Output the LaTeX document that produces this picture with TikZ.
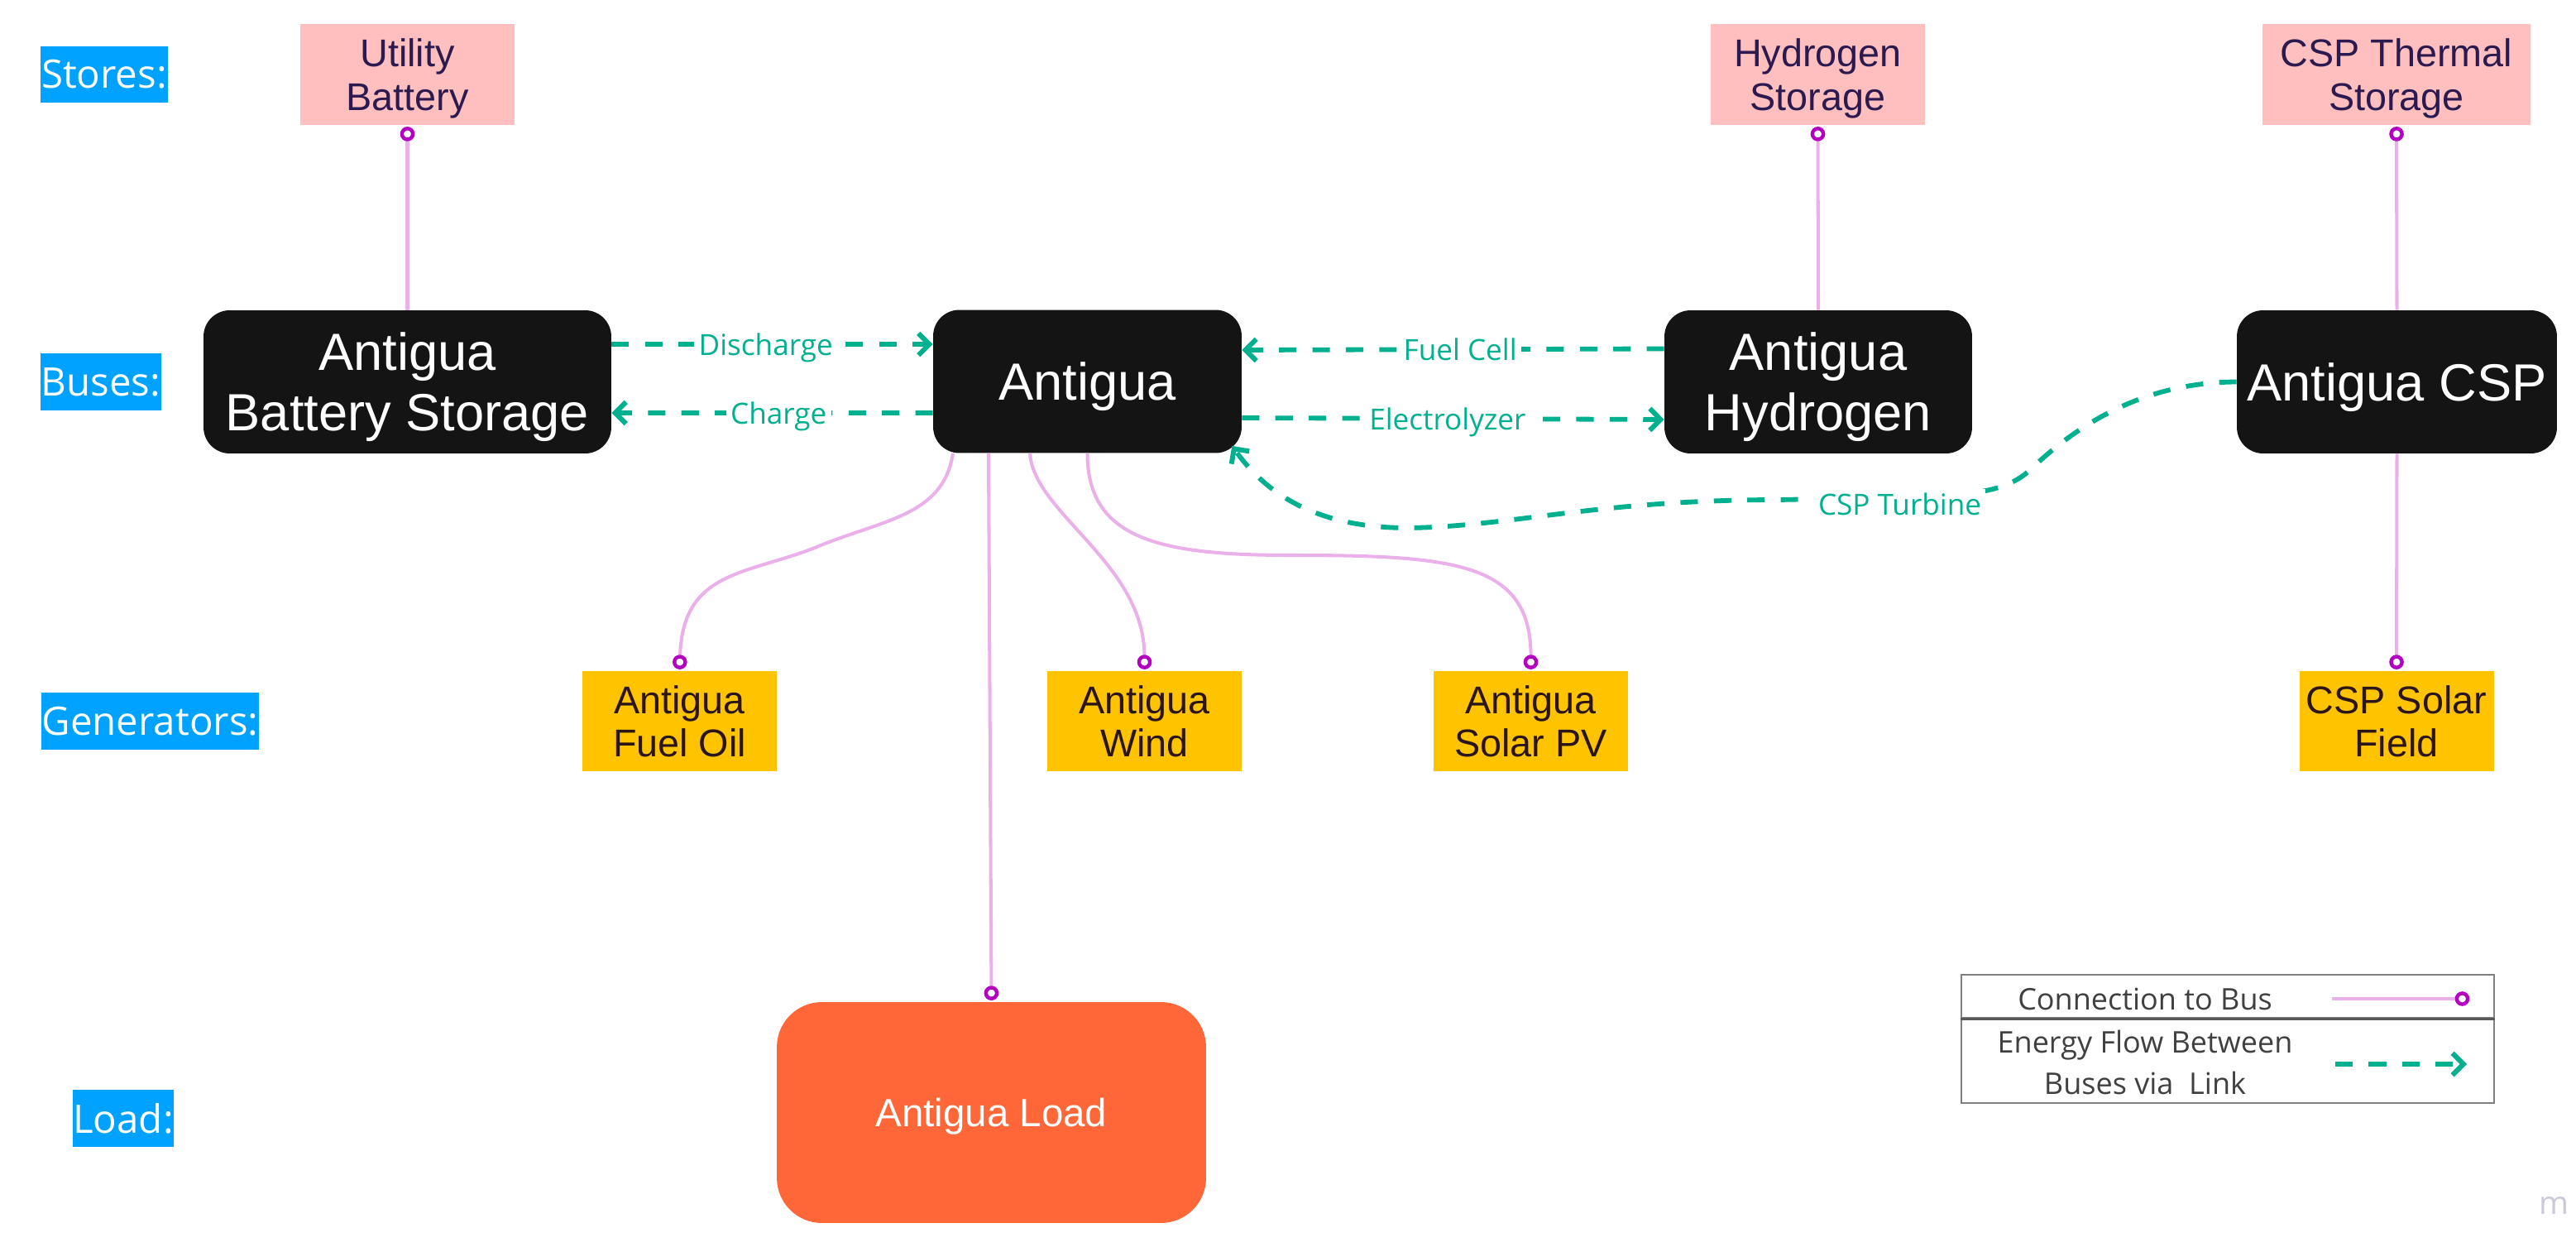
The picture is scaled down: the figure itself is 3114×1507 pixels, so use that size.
\documentclass[tikz,border=0pt]{standalone}
\usepackage{fontspec}
\setmainfont{Liberation Sans}
\newfontfamily\opensans{Open Sans}
\usetikzlibrary{calc, arrows.meta}
\definecolor{sideblue}{HTML}{00A2FF}
\definecolor{storepink}{HTML}{FFBFBF}
\definecolor{storeink}{HTML}{2A1A50}
\definecolor{genyellow}{HTML}{FFC300}
\definecolor{genink}{HTML}{2A1518}
\definecolor{busblack}{HTML}{141414}
\definecolor{loadorange}{HTML}{FF6738}
\definecolor{flowgreen}{HTML}{00B08F}
\definecolor{connpink}{HTML}{EBB0EA}
\definecolor{connpurple}{HTML}{B400C0}
\definecolor{legendgray}{HTML}{808080}
\definecolor{markgray}{HTML}{C9C9D8}

\begin{document}
\begin{tikzpicture}[
            x=0.02cm, y=-0.02cm,
            sidelabel/.style={fill=sideblue, text=white, inner sep=0pt, minimum height=1.38cm, font=\opensans\fontsize{27}{30}\selectfont},
            busnode/.style={fill=busblack, text=white, align=center, inner sep=0pt, text depth=0pt, minimum height=3.46cm, rounded corners=18pt, font=\fontsize{36}{41.5}\selectfont},
            storenode/.style={fill=storepink, text=storeink, align=center, inner sep=0pt, text depth=0pt, minimum height=2.44cm, font=\fontsize{26.6}{30}\selectfont},
            gennode/.style={fill=genyellow, text=genink, align=center, inner sep=0pt, minimum width=4.7cm, minimum height=2.42cm, font=\fontsize{26.6}{29.5}\selectfont},
            loadnode/.style={fill=loadorange, text=white, inner sep=0pt, text depth=0pt, rounded corners=31pt, font=\fontsize{27}{30}\selectfont},
            conn/.style={draw=connpink, line width=2.3pt, shorten >=1pt, -{Circle[open, length=10pt, width=10pt, line width=2.5pt, color=connpurple]}},
            flow/.style={draw=flowgreen, line width=3.3pt, dash pattern=on 12pt off 11pt, -{Straight Barb[length=7.5pt, width=15pt, line width=3.4pt]}},
            flowlabel/.style={fill=white, text=flowgreen, inner sep=3pt, text depth=0pt, font=\opensans\fontsize{20}{24}\selectfont},
            legendtext/.style={text=black!75, inner sep=0pt, font=\opensans\fontsize{20.5}{24}\selectfont},
            legendrow/.style={draw=legendgray, line width=1.6pt, inner sep=0pt, minimum width=12.88cm}
        ]
        \useasboundingbox (0,0) rectangle (3114,1507);

        % row labels
        \node[sidelabel, minimum width=3.08cm] (stores) at (126,90) {Stores:};
        \node[sidelabel, minimum width=2.92cm] (buses) at (122,461.5) {Buses:};
        \node[sidelabel, minimum width=5.26cm] (generators) at (181.5,871.5) {Generators:};
        \node[sidelabel, minimum width=2.44cm] (load) at (149,1351.5) {Load:};

        % stores
        \node[storenode, minimum width=5.18cm] (utility) at (492.5,90) {Utility\\Battery};
        \node[storenode, minimum width=5.18cm] (h2store) at (2197.5,90) {Hydrogen\\Storage};
        \node[storenode, minimum width=6.48cm] (cspstore) at (2897,90) {CSP Thermal\\Storage};

        % buses
        \node[busnode, minimum width=9.86cm] (battery) at (492.5,461.5) {Antigua\\Battery Storage};
        \node[busnode, minimum width=7.46cm] (antigua) at (1314.5,461) {Antigua};
        \node[busnode, minimum width=7.44cm] (hydrogen) at (2198,461.5) {Antigua\\Hydrogen};
        \node[busnode, minimum width=7.74cm] (csp) at (2897.5,461.5) {Antigua CSP};

        % generators
        \node[gennode] (fueloil) at (821.5,871.5) {Antigua\\Fuel Oil};
        \node[gennode] (wind) at (1383.5,871.5) {Antigua\\Wind};
        \node[gennode] (solar) at (1850.5,871.5) {Antigua\\Solar PV};
        \node[gennode] (solarfield) at (2897,871.5) {CSP Solar\\Field};

        % load
        \node[loadnode, minimum width=10.38cm, minimum height=5.34cm] (antiguaload) at (1198.5,1344.5) {Antigua Load};

        % connections to bus
        \draw[conn] (battery.north) -- (utility.south);
        \draw[conn] (hydrogen.north) -- (h2store.south);
        \draw[conn] (csp.north) -- (cspstore.south);
        \draw[conn] (csp.south) -- (solarfield.north);
        \draw[conn] ($(antigua.south)+(-119.5,0)$) -- (antiguaload.north);
        \draw[conn] ($(antigua.south)+(-162.5,0)$) .. controls (1140,625) and (1065,628) .. (985,662)
                    .. controls (900,695) and (825,690) .. (fueloil.north);
        \draw[conn] ($(antigua.south)+(-69.5,0)$) .. controls +(5,73) and +(0,-130) .. (wind.north);
        \draw[conn] (antigua.south) .. controls +(0,103) and (1400,671) .. (1560,671)
                    .. controls (1760,671) and (1851,680) .. (solar.north);

        % energy flows
        \draw[flow] ($(battery.east)+(0,-45.5)$) -- node[flowlabel, pos=.48] {Discharge} ($(antigua.west)+(0,-45)$);
        \draw[flow] ($(antigua.west)+(0,38)$) -- node[flowlabel, pos=.48] {Charge} ($(battery.east)+(0,37.5)$);
        \draw[flow] ($(hydrogen.west)+(0,-40)$) -- node[flowlabel, pos=.483] {Fuel Cell} ($(antigua.east)+(0,-38)$);
        \draw[flow] ($(antigua.east)+(0,44)$) -- node[flowlabel, pos=.487] {Electrolyzer} ($(hydrogen.west)+(0,45.5)$);
        \draw[flow] (csp.west) .. controls (2600,462) and (2520,505) .. (2455,567)
                    .. controls (2415,605) and (2350,600) .. node[flowlabel, pos=.7, yshift=-4.5pt] {CSP Turbine} (2150,604)
                    .. controls (1930,604) and (1830,636) .. (1703,638)
                    .. controls (1610,638) and (1540,610) .. ($(antigua.south east)+(-12,-9)$);

        % legend
        \node[legendrow, minimum height=1.04cm] (legendtop) at (2693,1204) {};
        \node[legendrow, minimum height=2.06cm] (legendbottom) at (2693,1281.5) {};
        \draw[black!65, line width=2pt] (legendtop.south west) -- (legendtop.south east);
        \node[legendtext] (conntext) at (2593,1207) {Connection to Bus};
        \node[legendtext, align=center, font=\opensans\fontsize{20.5}{29}\selectfont] (flowtext) at (2593,1284) {Energy Flow Between\\Buses via\ \ Link};
        \coordinate (connstart) at (2819,1207);
        \coordinate (connend) at (2987,1207);
        \coordinate (flowstart) at (2823,1286);
        \coordinate (flowend) at (2982,1286);
        \draw[conn] (connstart) -- (connend);
        \draw[flow] (flowstart) -- (flowend);

        \node[text=markgray, inner sep=0pt, font=\opensans\fontsize{22}{24}\selectfont] (mark) at (3087,1457) {m};
    \end{tikzpicture}
\end{document}
